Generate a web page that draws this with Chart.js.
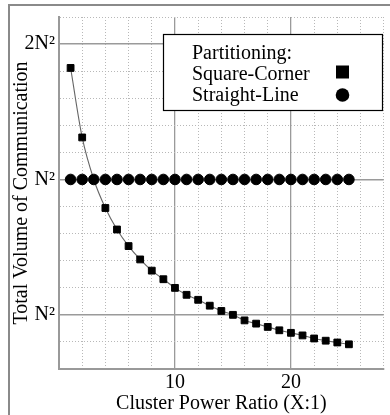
<!DOCTYPE html>
<html>
<head>
<meta charset="utf-8">
<script src="https://cdn.jsdelivr.net/npm/chart.js@4/dist/chart.umd.min.js"></script>
<style>
  html, body { margin: 0; padding: 0; background: #fff; }
  #wrap { position: relative; width: 390px; height: 415px; }
  canvas { display: block; }
</style>
</head>
<body>
<div id="wrap"><canvas id="c" width="390" height="415"></canvas></div>
<script>
// ---- data (values in units of N^2) ----
const ratios = [1,2,3,4,5,6,7,8,9,10,11,12,13,14,15,16,17,18,19,20,21,22,23,24,25];
const squareCorner = [1.77,1.24,1.0,0.864,0.774,0.711,0.664,0.627,0.600,0.574,0.554,0.540,0.524,0.510,0.500,0.486,0.478,0.470,0.462,0.456,0.450,0.443,0.438,0.434,0.430];
const straightLine = [1,1,1,1,1,1,1,1,1,1,1,1,1,1,1,1,1,1,1,1,1,1,1,1,1];
const seriesNames = ['Square-Corner', 'Straight-Line'];
const legendTitle = 'Partitioning:';
const yTickLabels = { '2': '2N\u00B2', '1': 'N\u00B2', '0.5': 'N\u00B2' };
const xTickLabels = { '10': '10', '20': '20' };
const xTitle = 'Cluster Power Ratio (X:1)';
const yTitle = 'Total Volume of Communication';

const SERIF = '"Liberation Serif", "DejaVu Serif", serif';

function isMajorY(v) { return Math.abs(Math.log2(v) - Math.round(Math.log2(v))) < 1e-6; }
function isMajorX(v) { return v % 10 === 0; }

const framePlugin = {
  id: 'frame',
  beforeDraw(chart) {
    const ctx = chart.ctx;
    ctx.save();
    ctx.strokeStyle = '#8a8a8a';
    ctx.lineWidth = 2;
    ctx.beginPath();
    ctx.moveTo(9, 420);
    ctx.lineTo(9, 5);
    ctx.lineTo(400, 5);
    ctx.stroke();
    ctx.restore();
  }
};

const legendPlugin = {
  id: 'boxLegend',
  afterDraw(chart) {
    const ctx = chart.ctx;
    ctx.save();
    const x0 = 163, y0 = 34, w = 219, h = 76;
    ctx.fillStyle = '#fff';
    ctx.fillRect(x0, y0, w, h);
    ctx.strokeStyle = '#000';
    ctx.lineWidth = 1.2;
    ctx.strokeRect(x0 + 0.5, y0 + 0.5, w, h);
    ctx.fillStyle = '#000';
    ctx.font = '20px ' + SERIF;
    ctx.textBaseline = 'alphabetic';
    ctx.textAlign = 'left';
    ctx.fillText(legendTitle, 192, 58.5);
    ctx.fillText(seriesNames[0], 192, 79.5);
    ctx.fillText(seriesNames[1], 192, 100.5);
    ctx.fillRect(336, 65.5, 13, 13);
    ctx.beginPath();
    ctx.arc(342.5, 95, 6.8, 0, Math.PI * 2);
    ctx.fill();
    ctx.restore();
  }
};

new Chart(document.getElementById('c'), {
  type: 'line',
  data: {
    labels: ratios,
    datasets: [
      {
        label: seriesNames[0],
        data: ratios.map((r, i) => ({ x: r, y: squareCorner[i] })),
        borderColor: '#666',
        borderWidth: 1.1,
        backgroundColor: '#000',
        pointStyle: 'rect',
        pointRadius: 4.8,
        pointBorderWidth: 1,
        pointBorderColor: '#000',
        pointBackgroundColor: '#000',
        cubicInterpolationMode: 'monotone',
        fill: false,
        order: 1
      },
      {
        label: seriesNames[1],
        data: ratios.map((r, i) => ({ x: r, y: straightLine[i] })),
        showLine: false,
        pointStyle: 'circle',
        pointRadius: 5.3,
        pointBorderWidth: 1,
        pointBorderColor: '#000',
        pointBackgroundColor: '#000',
        order: 0
      }
    ]
  },
  options: {
    responsive: false,
    animation: false,
    events: [],
    layout: { padding: { top: 17, left: 0, right: 0, bottom: 0 } },
    plugins: {
      legend: { display: false },
      tooltip: { enabled: false }
    },
    scales: {
      x: {
        type: 'linear',
        min: 0,
        max: 28,
        afterBuildTicks(scale) {
          const t = [];
          for (let v = 0; v <= 28; v += 2) t.push({ value: v });
          scale.ticks = t;
        },
        afterFit(scale) { scale.height = 46; },
        ticks: {
          autoSkip: false,
          maxRotation: 0,
          padding: 2,
          color: '#000',
          font: { family: SERIF, size: 20, lineHeight: 1.2 },
          callback: (v) => xTickLabels[String(v)] || ''
        },
        grid: {
          drawTicks: false,
          color: (c) => (c.tick && isMajorX(c.tick.value)) ? '#9a9a9a' : '#b8b8b8',
          lineWidth: (c) => (c.tick && isMajorX(c.tick.value)) ? 1.3 : 1
        },
        border: {
          display: true,
          color: '#999',
          width: 2,
          dash: (c) => (c.tick && !isMajorX(c.tick.value)) ? [1, 2] : []
        },
        title: {
          display: true,
          text: xTitle,
          color: '#000',
          font: { family: SERIF, size: 20, lineHeight: 1 },
          padding: { top: 0, bottom: 1.5 }
        }
      },
      y: {
        type: 'logarithmic',
        min: Math.pow(2, -1.4),
        max: Math.pow(2, 1.2),
        afterBuildTicks(scale) {
          const t = [];
          for (let k = -7; k <= 6; k++) t.push({ value: Math.pow(2, k / 5) });
          scale.ticks = t;
        },
        afterFit(scale) { scale.width = 59; },
        ticks: {
          autoSkip: false,
          padding: 4,
          color: '#000',
          font: { family: SERIF, size: 20, lineHeight: 1.2 },
          callback: (v) => {
            const l = Math.log2(v);
            if (Math.abs(l - Math.round(l)) < 1e-6) {
              return yTickLabels[String(Math.pow(2, Math.round(l)))] || '';
            }
            return '';
          }
        },
        grid: {
          drawTicks: false,
          color: (c) => (c.tick && isMajorY(c.tick.value)) ? '#9a9a9a' : '#b8b8b8',
          lineWidth: (c) => (c.tick && isMajorY(c.tick.value)) ? 1.5 : 1
        },
        border: {
          display: true,
          color: '#999',
          width: 2,
          dash: (c) => (c.tick && !isMajorY(c.tick.value)) ? [1, 2] : []
        },
        title: {
          display: true,
          text: yTitle,
          color: '#000',
          font: { family: SERIF, size: 20, lineHeight: 1 },
          padding: { top: 12, bottom: 0 }
        }
      }
    }
  },
  plugins: [framePlugin, legendPlugin]
});
</script>
</body>
</html>
